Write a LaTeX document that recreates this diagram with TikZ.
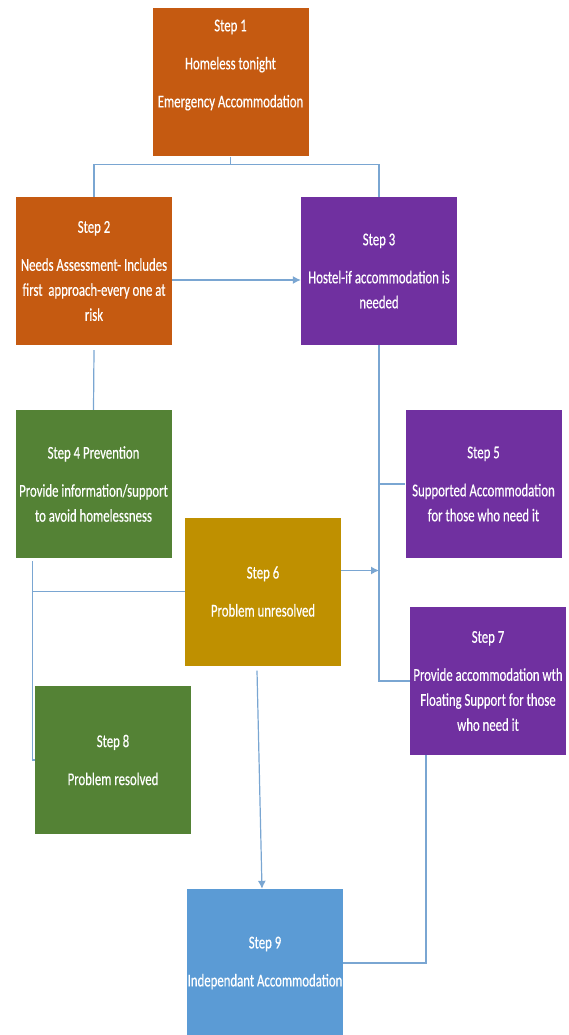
\documentclass[tikz,border=0pt]{standalone}
\usepackage{fontspec}
\setmainfont{Carlito}[FakeStretch=0.71, FakeBold=0.4]
\usetikzlibrary{arrows.meta}
\definecolor{orangestep}{HTML}{C55A11}
\definecolor{purplestep}{HTML}{7030A0}
\definecolor{greenstep}{HTML}{548235}
\definecolor{goldstep}{HTML}{BF9000}
\definecolor{bluestep}{HTML}{5B9BD5}
\definecolor{linkblue}{RGB}{122,166,210}
\begin{document}
\begin{tikzpicture}[x=1pt, y=-1pt, >={Latex[length=8pt, width=8pt]},
    stepbox/.style={rectangle, minimum width=156pt, minimum height=148pt, inner sep=0pt,
      text=white, align=center, font=\fontsize{18}{25}\selectfont},
    link/.style={draw=linkblue, line width=1.2pt}]
        \useasboundingbox (0,0) rectangle (569,1035);
        \node[stepbox, fill=orangestep] (s1) at (230.5,82.5) {Step 1\\[13pt]Homeless tonight\\[13pt]Emergency Accommodation\\[13pt]~};
        \node[stepbox, fill=orangestep] (s2) at (94,271) {Step 2\\[13pt]Needs Assessment- Includes\\first\ \ approach-every one at\\risk};
        \node[stepbox, fill=purplestep] (s3) at (379,271) {Step 3\\[13pt]Hostel-if accommodation is\\needed};
        \node[stepbox, fill=greenstep] (s4) at (93.5,484) {Step 4 Prevention\\[13pt]Provide information/support\\to avoid homelessness};
        \node[stepbox, fill=purplestep] (s5) at (483.5,484) {Step 5\\[13pt]Supported Accommodation\\for those who need it};
        \node[stepbox, fill=goldstep] (s6) at (263,591.5) {Step 6\\[13pt]Problem unresolved};
        \node[stepbox, fill=purplestep] (s7) at (488,681) {Step 7\\[13pt]Provide accommodation wth\\Floating Support for those\\who need it};
        \node[stepbox, fill=greenstep] (s8) at (113,760) {Step 8\\[13pt]Problem resolved};
        \node[stepbox, fill=bluestep] (s9) at (265,963) {Step 9\\[13pt]Independant Accommodation};
        % connectors
        \draw[link] (s1.south) -- ++(0,8) coordinate (j1);
        \draw[link] (s2.north) |- (j1) -| (s3.north);
        \draw[link, ->] ([yshift=-9pt]s2.east) -- ([yshift=-9pt]s3.west);
        \draw[link] ([yshift=-5pt]s2.south) -- (s4.north);
        \draw[link] (s3.south) |- (s7.west);
        \draw[link] (s3.south |- s5.west) -- (s5.west);
        \draw[link, ->] ([yshift=21pt]s6.east) -- ([yshift=21pt]s6.east -| s3.south);
        \draw[link] (s6.west) -| ([xshift=17pt, yshift=-3pt]s4.south west);
        \draw[link] ([xshift=17pt, yshift=-3pt]s4.south west) |- (s8.west);
        \draw[link, ->] ([xshift=-6pt, yshift=-5pt]s6.south) -- ([xshift=-3pt]s9.north);
        \draw[link] ([xshift=-62pt]s7.south) |- (s9.east);
      \end{tikzpicture}
\end{document}
